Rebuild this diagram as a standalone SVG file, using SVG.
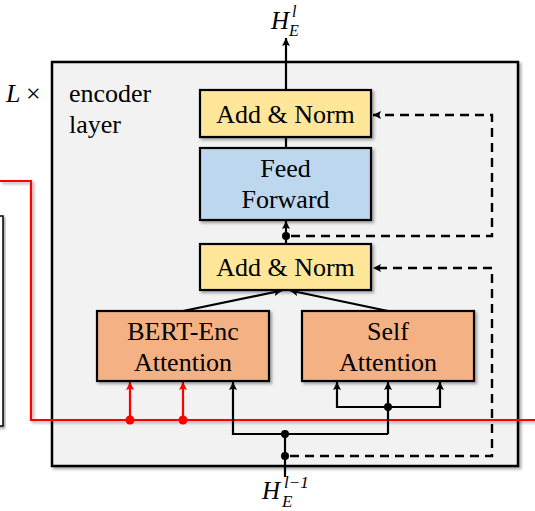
<svg xmlns="http://www.w3.org/2000/svg" width="535" height="511" viewBox="0 0 535 511">
<defs>
<filter id="sh" x="-10%" y="-10%" width="130%" height="130%">
<feDropShadow dx="2" dy="2" stdDeviation="1.5" flood-color="#000" flood-opacity="0.35"/>
</filter>
<marker id="ah" viewBox="0 0 10 10" refX="10" refY="5" markerWidth="9" markerHeight="8" markerUnits="userSpaceOnUse" orient="auto">
<path d="M0,0 L10,5 L0,10 L2,5 z" fill="#000"/>
</marker>
<marker id="ahr" viewBox="0 0 10 10" refX="10" refY="5" markerWidth="9" markerHeight="8" markerUnits="userSpaceOnUse" orient="auto">
<path d="M0,0 L10,5 L0,10 L2,5 z" fill="#ff0000"/>
</marker>
<style>
.box{stroke:#000;stroke-width:2.2;filter:url(#sh)}
text{font-family:'Liberation Serif','Times New Roman','DejaVu Serif',serif;fill:#000}
.t{font-size:26px;text-anchor:middle}
.lbl{font-size:26px}
.m{font-style:italic}
.ln{fill:none;stroke:#000;stroke-width:2.2}
.ds{fill:none;stroke:#000;stroke-width:2.4;stroke-dasharray:9 6}
.rd{fill:none;stroke:#ff0000;stroke-width:2.2}
</style>
</defs>

<g id="left-box">
<rect x="-10" y="216" width="13" height="210" fill="#fff" stroke="#000" stroke-width="1.5" filter="url(#sh)"/>
</g>

<g id="encoder-layer">
<rect x="52" y="62" width="466" height="404" fill="#f2f2f2" stroke="#000" stroke-width="2.5" filter="url(#sh)"/>
<text class="lbl" x="69" y="102">encoder</text>
<text class="lbl" x="69" y="133">layer</text>
</g>

<g id="repeat-label">
<text class="m" x="6" y="102" font-size="26">L</text>
<text class="lbl" x="26" y="102">×</text>
</g>

<g id="connectors">
<path class="rd" d="M0,181 H31 V420 H535" filter="url(#sh)"/>
<path class="rd" d="M130,420 V382" marker-end="url(#ahr)"/>
<path class="rd" d="M183,420 V382" marker-end="url(#ahr)"/>
<circle cx="130" cy="420" r="4.5" fill="#ff0000"/>
<circle cx="183" cy="420" r="4.5" fill="#ff0000"/>
<path class="ln" d="M285,477 V434"/>
<path class="ln" d="M388,434 H233 V382" marker-end="url(#ah)"/>
<path class="ln" d="M388,434 V382" marker-end="url(#ah)"/>
<path class="ln" d="M388,407 H337 V382" marker-end="url(#ah)"/>
<path class="ln" d="M388,407 H440 V382" marker-end="url(#ah)"/>
<circle cx="285" cy="434" r="4" fill="#000"/>
<circle cx="285" cy="456" r="4" fill="#000"/>
<circle cx="388" cy="407" r="4" fill="#000"/>
<path class="ds" d="M290,456 H492 V268 H373" marker-end="url(#ah)"/>
<path class="ln" d="M183,311 L282,290.5" marker-end="url(#ah)"/>
<path class="ln" d="M388,311 L290,290.5" marker-end="url(#ah)"/>
<path class="ln" d="M286,244 V236"/>
<path class="ln" d="M286,236 V221" marker-end="url(#ah)"/>
<circle cx="286" cy="236" r="4" fill="#000"/>
<path class="ds" d="M291,236 H492 V115 H373" marker-end="url(#ah)"/>
<path class="ln" d="M286,148 V137"/>
<path class="ln" d="M286,90 V38" marker-end="url(#ah)"/>
</g>

<g id="add-norm-top">
<rect class="box" x="200" y="90" width="171" height="47" fill="#ffe699"/>
<text class="t" x="285.5" y="123">Add &amp; Norm</text>
</g>

<g id="feed-forward">
<rect class="box" x="200" y="148" width="171" height="72" fill="#bdd7ee"/>
<text class="t" x="285.5" y="177">Feed</text>
<text class="t" x="285.5" y="208">Forward</text>
</g>

<g id="add-norm-bottom">
<rect class="box" x="200" y="244" width="171" height="46" fill="#ffe699"/>
<text class="t" x="285.5" y="276">Add &amp; Norm</text>
</g>

<g id="bert-enc-attention">
<rect class="box" x="97" y="311" width="172" height="70" fill="#f4b183"/>
<text class="t" x="183" y="340">BERT-Enc</text>
<text class="t" x="183" y="371">Attention</text>
</g>

<g id="self-attention">
<rect class="box" x="302" y="311" width="172" height="70" fill="#f4b183"/>
<text class="t" x="388" y="340">Self</text>
<text class="t" x="388" y="371">Attention</text>
</g>

<g id="output-label">
<text class="m" x="271" y="29" font-size="25">H</text>
<text class="m" x="292" y="17" font-size="16">l</text>
<text class="m" x="289" y="36" font-size="16">E</text>
</g>

<g id="input-label">
<text class="m" x="262" y="499" font-size="25">H</text>
<text class="m" x="284" y="488" font-size="17">l−1</text>
<text class="m" x="282" y="507" font-size="17">E</text>
</g>
</svg>
